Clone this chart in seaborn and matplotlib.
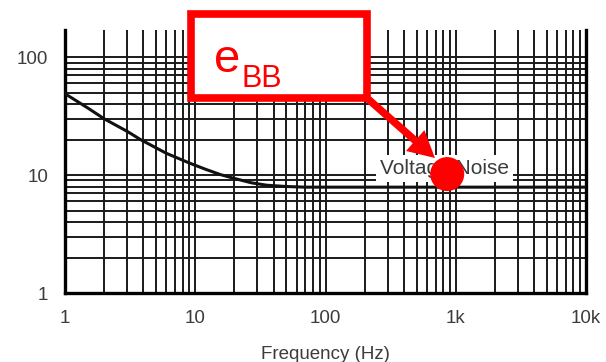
import numpy as np
import pandas as pd
import matplotlib
matplotlib.use("Agg")
import matplotlib.pyplot as plt
import matplotlib.patches as mpatches
from matplotlib.ticker import LogLocator, FixedLocator, FixedFormatter, NullFormatter
import seaborn as sns

# data
freq_hz = [1, 1.5, 2, 3, 3.8, 6, 9.1, 12, 15.6, 19.7, 27, 35.5, 50, 70, 100, 1000, 10000]
noise = [49, 37, 30, 23.5, 20, 15.3, 12.6, 11.2, 10.1, 9.4, 8.6, 8.2, 8.0, 7.9, 7.9, 7.9, 7.9]
x_ticks = [1, 10, 100, 1000, 10000]
x_tick_labels = ["1", "10", "100", "1k", "10k"]
y_ticks = [1, 10, 100]
y_tick_labels = ["1", "10", "100"]
marker_freq = [860]
marker_val = [10.2]
annot_label = "Voltage Noise"
box_main = "e"
box_sub = "BB"
x_label = "Frequency (Hz)"

sns.set_theme(style="white")
plt.rcParams["font.family"] = ["Liberation Sans", "DejaVu Sans"]

W, H = 606, 362
fig = plt.figure(figsize=(W / 100, H / 100), dpi=100)
L, R, T, B = 65, 586, 30, 293
ax = fig.add_axes([L / W, 1 - B / H, (R - L) / W, (B - T) / H])

df = pd.DataFrame({"f": freq_hz, "n": noise})
sns.lineplot(data=df, x="f", y="n", ax=ax, color="#111111", lw=2.2, zorder=3)

ax.set_xscale("log")
ax.set_yscale("log")
ax.set_xlim(1, 10000)
ax.set_ylim(1, 170)

ax.xaxis.set_major_locator(FixedLocator(x_ticks))
ax.xaxis.set_major_formatter(FixedFormatter(x_tick_labels))
ax.yaxis.set_major_locator(FixedLocator(y_ticks))
ax.yaxis.set_major_formatter(FixedFormatter(y_tick_labels))
ax.xaxis.set_minor_locator(LogLocator(base=10, subs=range(2, 10)))
ax.yaxis.set_minor_locator(LogLocator(base=10, subs=range(2, 10)))
ax.xaxis.set_minor_formatter(NullFormatter())
ax.yaxis.set_minor_formatter(NullFormatter())

ax.grid(which="both", color="#1a1a1a", lw=1.4)
ax.set_axisbelow(True)
ax.tick_params(which="both", length=0)
ax.tick_params(axis="x", pad=12, labelsize=13.5, labelcolor="#3c3c3c")
ax.tick_params(axis="y", pad=12, labelsize=13.5, labelcolor="#3c3c3c")

for s in ["left", "bottom", "right"]:
    ax.spines[s].set_visible(True)
    ax.spines[s].set_color("black")
    ax.spines[s].set_linewidth(2.4)
ax.spines["top"].set_visible(False)

ax.set_xlabel(x_label, fontsize=13.5, color="#3c3c3c", labelpad=14)
ax.set_ylabel("")

def fx(px):
    return px / W

def fy(py):
    return 1 - py / H

# annotation label with white background
ax.text(fx(380), fy(174), annot_label, fontsize=15, color="#3c3c3c",
        va="baseline", ha="left", zorder=5, transform=fig.transFigure, clip_on=False,
        bbox=dict(facecolor="white", edgecolor="none", pad=2.5))

# red marker
ax.scatter(marker_freq, marker_val, s=600, color="#ff0000", edgecolors="none",
           zorder=10, clip_on=False)

# red box
rect = mpatches.Rectangle((fx(191), fy(98)), (367 - 191) / W, (98 - 14) / H,
                          transform=fig.transFigure, facecolor="white",
                          edgecolor="#ff0000", lw=5.5, joinstyle="miter", zorder=10)
fig.add_artist(rect)
t1 = fig.text(fx(214), fy(72), box_main, fontsize=34, color="#ff0000", va="baseline", ha="left")
t2 = fig.text(fx(242), fy(87), box_sub, fontsize=22, color="#ff0000", va="baseline", ha="left")
t1.set_zorder(11)
t2.set_zorder(11)

# red arrow
arr = mpatches.FancyArrowPatch((fx(368), fy(99)), (fx(435), fy(158)),
                               transform=fig.transFigure,
                               arrowstyle="simple,head_length=0.95,head_width=1.0,tail_width=0.27",
                               mutation_scale=20, color="#ff0000", lw=0,
                               shrinkA=0, shrinkB=0, zorder=10)
fig.add_artist(arr)

fig.savefig("out.png", dpi=100)
